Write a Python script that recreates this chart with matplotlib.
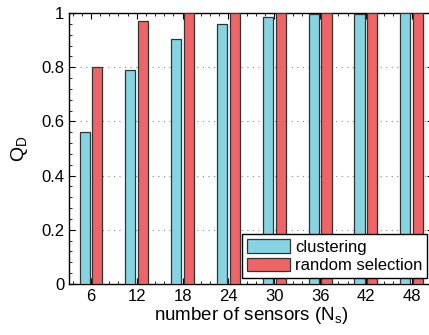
import numpy as np
import matplotlib.pyplot as plt
from matplotlib.ticker import MultipleLocator

plt.rcParams['font.family'] = ['Liberation Sans', 'DejaVu Sans']
plt.rcParams['mathtext.fontset'] = 'custom'
plt.rcParams['mathtext.rm'] = 'Liberation Sans'

sensors = [6, 12, 18, 24, 30, 36, 42, 48]
clustering = [0.56, 0.79, 0.904, 0.958, 0.985, 0.995, 0.998, 1.0]
random_sel = [0.80, 0.97, 1.0, 1.0, 1.0, 1.0, 1.0, 1.0]

fig = plt.figure(figsize=(4.29, 3.35), dpi=100)
ax = fig.add_axes([69/429, 51/335, 1 - 69/429 + 0.01, 271/335])

x = np.arange(1, len(sensors) + 1)
w = 0.22
ax.bar(x - 0.14, clustering, w, color='#86d4e2', edgecolor='#333333', linewidth=0.9, label='clustering', zorder=3)
ax.bar(x + 0.14, random_sel, w, color='#ef6466', edgecolor='#333333', linewidth=0.9, label='random selection', zorder=3)

ax.set_xlim(0.52, 8.47)
ax.set_ylim(0, 1)
ax.set_xticks(x)
ax.set_xticklabels([str(s) for s in sensors])
ax.set_yticks([0, 0.2, 0.4, 0.6, 0.8, 1])
ax.set_yticklabels(['0', '0.2', '0.4', '0.6', '0.8', '1'])
ax.yaxis.set_minor_locator(MultipleLocator(0.04))
ax.xaxis.set_minor_locator(MultipleLocator(0.2))
ax.tick_params(direction='in', which='both', top=True, right=True, labelsize=12)
ax.tick_params(which='major', length=4)
ax.tick_params(which='minor', length=2)
ax.grid(True, axis='y', which='major', linestyle=(0, (1, 4)), color='#888888', linewidth=0.8, zorder=0)
for s in ax.spines.values():
    s.set_linewidth(1.0)

ax.set_xlabel('number of sensors (N$_\\mathrm{s}$)', fontsize=13.5, labelpad=1)
ax.set_ylabel('Q$_\\mathrm{D}$', fontsize=14, labelpad=8)

leg = ax.legend(loc='lower right', fontsize=12, fancybox=False, framealpha=1,
                edgecolor='black', borderpad=0.3, handlelength=2.6, handleheight=0.9,
                handletextpad=0.3, labelspacing=0.15, borderaxespad=0.35)
leg.get_frame().set_linewidth(1.0)

fig.savefig('out.png', dpi=100)
